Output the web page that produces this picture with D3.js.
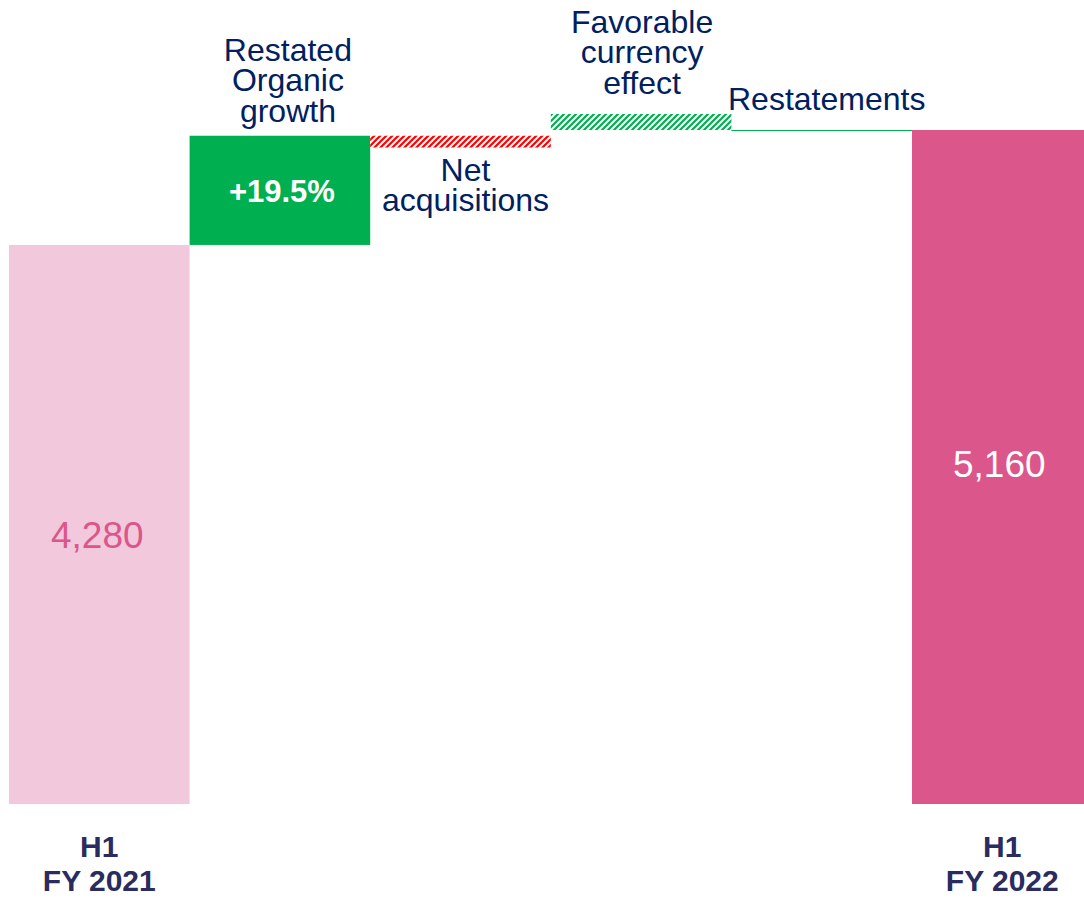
<!DOCTYPE html>
<html>
<head>
<meta charset="utf-8">
<script src="https://cdn.jsdelivr.net/npm/d3@7"></script>
<style>
  body { margin: 0; background: #fff; }
  svg { display: block; font-family: "Liberation Sans", Arial, sans-serif; }
</style>
</head>
<body>
<div id="app"></div>
<script>
// waterfall steps: each bar runs from barStart to barEnd
const categories = ["H1 FY 2021", "Restated Organic growth", "Net acquisitions", "Favorable currency effect", "Restatements", "H1 FY 2022"];
const barStart = [0, 4280, 5116, 5160, 5160, 0];
const barEnd = [4280, 5116, 5026, 5283, 5160, 5160];
const valueLabels = ["4,280", "+19.5%", "", "", "", "5,160"];
const stepLabels = [
  [],
  ["Restated", "Organic", "growth"],
  ["Net", "acquisitions"],
  ["Favorable", "currency", "effect"],
  ["Restatements"],
  []
];
const axisLabels = [["H1", "FY 2021"], [], [], [], [], ["H1", "FY 2022"]];

const width = 1084;
const height = 898;

// small hand nudges so labels sit like the original slide
const labelNudge = [[0, 0], [8, 0], [5, -1], [1, -6], [5, -6], [0, 0]];
const valueNudge = [[-2, 10], [2, 0], [0, 0], [0, 0], [0, 0], [-3, -3]];

const data = categories.map((c, i) => ({
  name: c,
  start: barStart[i],
  end: barEnd[i],
  value: valueLabels[i],
  label: stepLabels[i],
  axis: axisLabels[i],
  i
}));

const x = d3.scaleBand()
  .domain(categories)
  .range([9, 9 + 6 * 180.6])
  .padding(0);

const y = d3.scaleLinear()
  .domain([0, 5160])
  .range([804, 130]);

const svg = d3.select("#app")
  .append("svg")
  .attr("width", width)
  .attr("height", height);

const defs = svg.append("defs");

function hatch(id, color) {
  const p = defs.append("pattern")
    .attr("id", id)
    .attr("patternUnits", "userSpaceOnUse")
    .attr("width", 6)
    .attr("height", 6);
  p.append("rect").attr("width", 6).attr("height", 6).attr("fill", "#fff");
  p.append("path")
    .attr("d", "M-1,1 l2,-2 M0,6 l6,-6 M5,7 l2,-2")
    .attr("stroke", color)
    .attr("stroke-width", 2.2);
}
hatch("hatch-red", "#ff0000");
hatch("hatch-green", "#00b050");

const fills = ["#f2c8dc", "#00b050", "url(#hatch-red)", "url(#hatch-green)", "#00b050", "#db568a"];

svg.append("g")
  .selectAll("rect")
  .data(data)
  .join("rect")
  .attr("x", d => x(d.name))
  .attr("width", x.bandwidth())
  .attr("y", d => y(Math.max(d.start, d.end)))
  .attr("height", d => Math.max(1, Math.abs(y(d.start) - y(d.end))))
  .attr("fill", d => fills[d.i]);

// values inside the bars
const valueStyle = [
  { color: "#db568a", size: 37, weight: "normal" },
  { color: "#ffffff", size: 31, weight: "bold" },
  null, null, null,
  { color: "#ffffff", size: 37, weight: "normal" }
];

svg.append("g")
  .selectAll("text")
  .data(data.filter(d => d.value))
  .join("text")
  .attr("x", d => x(d.name) + x.bandwidth() / 2 + valueNudge[d.i][0])
  .attr("y", d => (y(d.start) + y(d.end)) / 2 + valueStyle[d.i].size * 0.36 + valueNudge[d.i][1])
  .attr("text-anchor", "middle")
  .attr("fill", d => valueStyle[d.i].color)
  .attr("font-size", d => valueStyle[d.i].size)
  .attr("font-weight", d => valueStyle[d.i].weight)
  .text(d => d.value);

// step labels: above the bar for rises, below for falls
const lineH = 30.5;
const labelG = svg.append("g")
  .attr("fill", "#002060")
  .attr("font-size", 32)
  .attr("text-anchor", "middle");

data.filter(d => d.label.length).forEach(d => {
  const cx = x(d.name) + x.bandwidth() / 2 + labelNudge[d.i][0];
  const n = d.label.length;
  const falls = d.end < d.start;
  const firstBase = (falls
    ? y(d.end) + 34
    : y(Math.max(d.start, d.end)) - 14 - (n - 1) * lineH) + labelNudge[d.i][1];
  const t = labelG.append("text")
    .attr("x", cx)
    .attr("y", firstBase);
  d.label.forEach((line, k) => {
    t.append("tspan")
      .attr("x", cx)
      .attr("dy", k === 0 ? 0 : lineH)
      .text(line);
  });
});

// category labels under the totals
const axisG = svg.append("g")
  .attr("fill", "#2a2b5e")
  .attr("font-size", 30)
  .attr("font-weight", "bold")
  .attr("text-anchor", "middle");

data.filter(d => d.axis.length).forEach(d => {
  const cx = x(d.name) + x.bandwidth() / 2;
  const t = axisG.append("text").attr("x", cx).attr("y", y(0) + 53);
  d.axis.forEach((line, k) => {
    t.append("tspan").attr("x", cx).attr("dy", k === 0 ? 0 : 34).text(line);
  });
});
</script>
</body>
</html>
